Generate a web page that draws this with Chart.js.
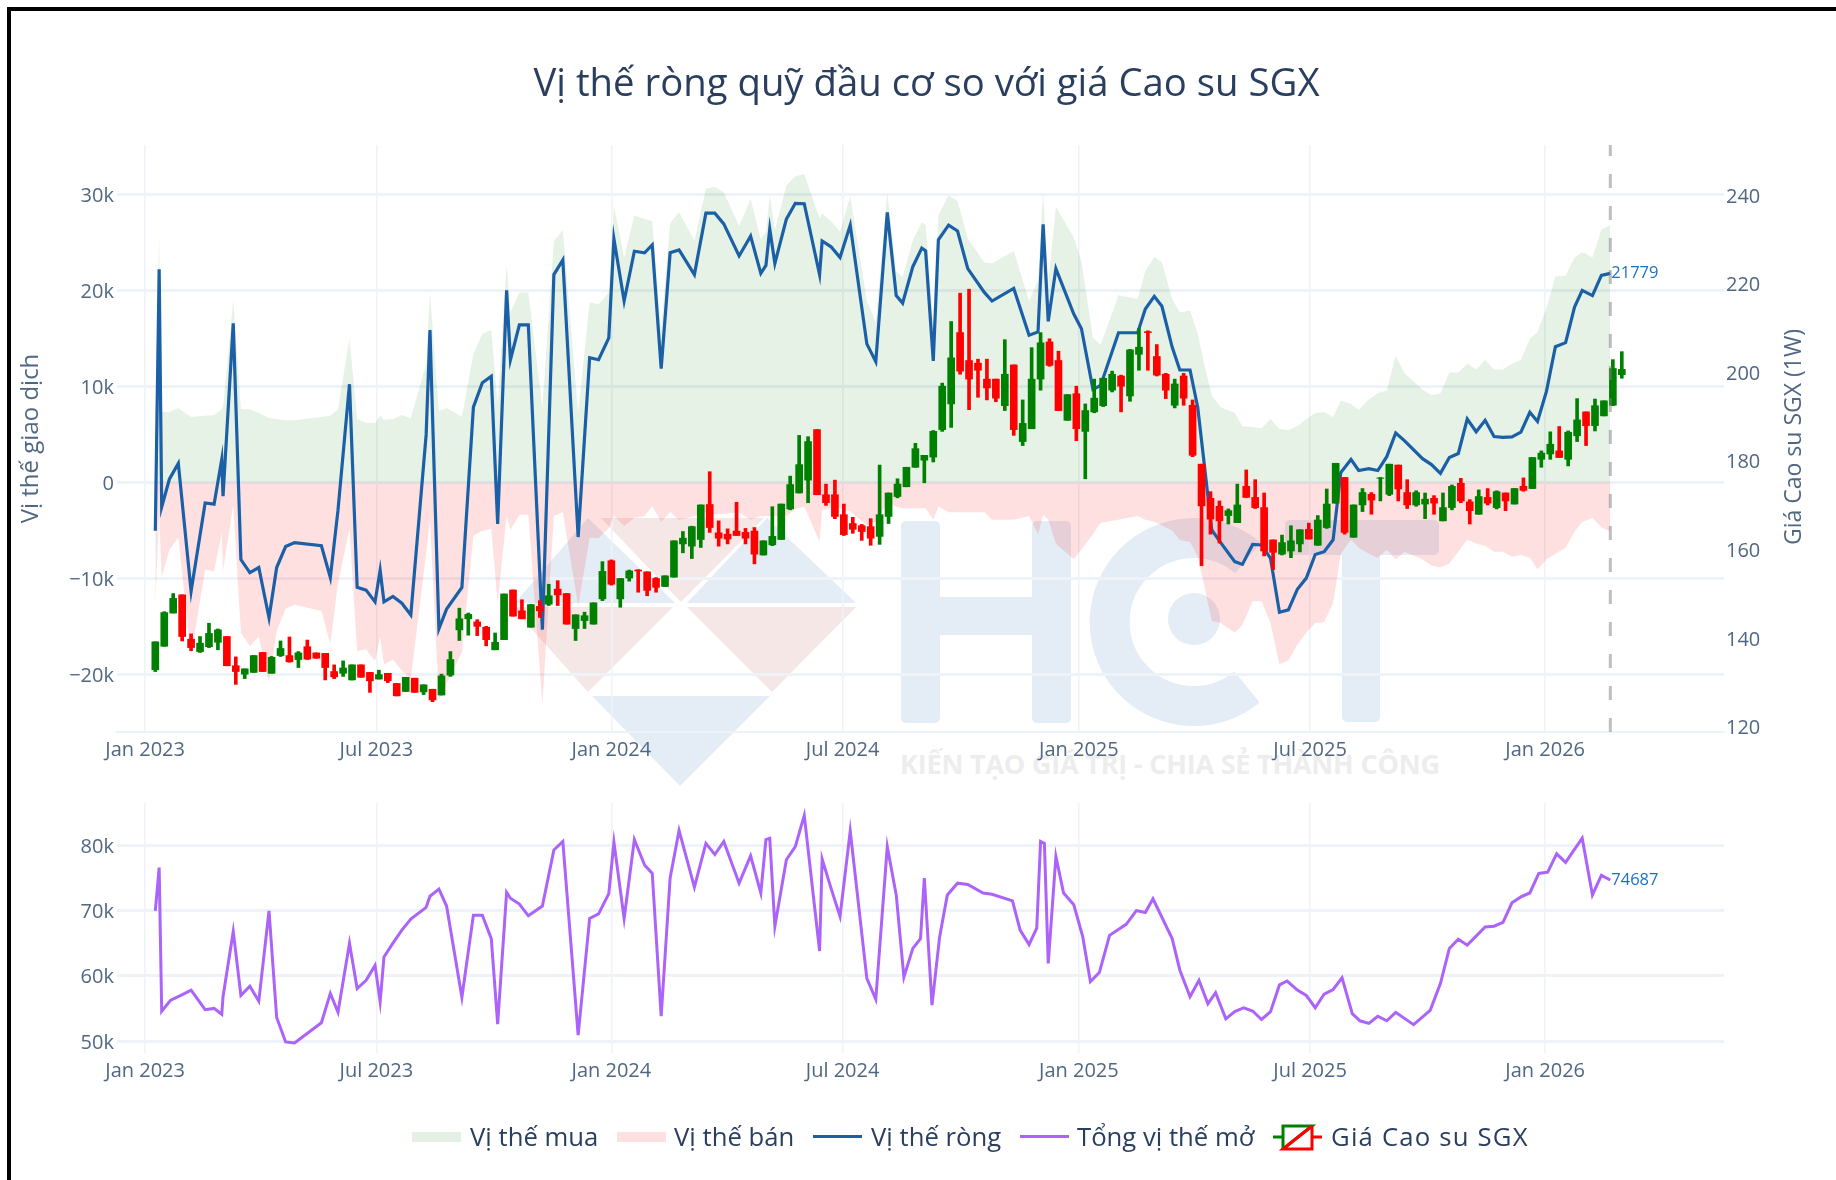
<!DOCTYPE html>
<html>
<head>
<meta charset="utf-8">
<title>Vị thế ròng quỹ đầu cơ so với giá Cao su SGX</title>
<script src="https://cdn.jsdelivr.net/npm/chart.js@4"></script>
<style>
  html, body { margin: 0; padding: 0; background: #fff; }
  #page { position: relative; width: 1836px; height: 1180px; overflow: hidden; background: #fff; font-family: "Open Sans", sans-serif; color: #2a3f5f; }
  #frameTop { position: absolute; left: 7px; top: 7px; right: 0; height: 4px; background: #000; }
  #frameLeft { position: absolute; left: 7px; top: 7px; bottom: 0; width: 4px; background: #000; }
  #watermark { position: absolute; left: 0; top: 0; }
  canvas { position: absolute; left: 0; }
  #topChart { top: 0; }
  #bottomChart { top: 780px; }
  #rightTitle { position: absolute; left: 1775px; top: 310px; height: 254px; line-height: 34px; text-align: center; font-size: 23px; color: #506784; writing-mode: vertical-rl; transform: rotate(180deg); white-space: nowrap; }
  #legend { position: absolute; left: 0; top: 1120px; width: 1836px; height: 34px; font-size: 25.7px; line-height: 34px; }
  #legend span { position: absolute; top: 0; white-space: nowrap; }
  #legend i { position: absolute; display: block; width: 49px; }
  #legend svg { position: absolute; left: 1273px; top: 3px; }
</style>
</head>
<body>
<div id="page">
  <svg id="watermark" width="1836" height="1180">
    <g fill="#e4ecf5">
      <polygon points="588,518 675,603 515,603"/>
      <polygon points="767,518 856,603 687,603"/>
      <polygon points="592,696 770,696 680,786"/>
      <rect x="901" y="521" width="39" height="202" rx="5"/>
      <rect x="940" y="597" width="92" height="38"/>
      <rect x="1032" y="521" width="39" height="202" rx="5"/>
      <circle cx="1194" cy="619" r="26"/>
      <rect x="1285" y="520" width="154" height="35" rx="5"/>
      <rect x="1342" y="520" width="38" height="202" rx="5"/>
    </g>
    <g fill="#f6e7e7">
      <polygon points="601,518 764,518 681,602"/>
      <polygon points="512,607 673,607 588,692"/>
      <polygon points="687,607 856,607 772,692"/>
    </g>
    <path d="M 1248 558 A 84 84 0 1 0 1247 687" fill="none" stroke="#e4ecf5" stroke-width="40"/>
    <text x="900" y="774" font-family="Open Sans" font-weight="700" font-size="27" fill="#ededed" textLength="540">KIẾN TẠO GIÁ TRỊ - CHIA SẺ THÀNH CÔNG</text>
  </svg>
  <canvas id="topChart" width="1836" height="780"></canvas>
  <canvas id="bottomChart" width="1836" height="310"></canvas>
  <div id="frameTop"></div>
  <div id="frameLeft"></div>
  <div id="rightTitle">Giá Cao su SGX (1W)</div>
  <div id="legend">
    <i style="left:412px;top:12px;height:10px;background:#e5f0e5"></i><span style="left:470px">Vị thế mua</span>
    <i style="left:617px;top:12px;height:10px;background:#ffe0e0"></i><span style="left:674px">Vị thế bán</span>
    <i style="left:813px;top:15px;height:3px;background:#1b5fa6"></i><span style="left:871px">Vị thế ròng</span>
    <i style="left:1020px;top:15px;height:3px;background:#ab63fa"></i><span style="left:1077px">Tổng vị thế mở</span>
    <svg width="49" height="28">
      <path d="M0 14H10M10 26V3H39L10 26" fill="none" stroke="#008000" stroke-width="3"/>
      <path d="M49 14H39M39 3V26H10L39 3" fill="none" stroke="#ff0000" stroke-width="3"/>
    </svg>
    <span style="left:1331px;letter-spacing:1.2px">Giá Cao su SGX</span>
  </div>
</div>
<script>
// all dates are days since 1 Jan 2023
const xTickDays = [0, 181, 365, 546, 731, 912, 1096];
const xTickLabels = ['Jan 2023', 'Jul 2023', 'Jan 2024', 'Jul 2024', 'Jan 2025', 'Jul 2025', 'Jan 2026'];
const positionTicks = [-20000, -10000, 0, 10000, 20000, 30000];
const priceTicks = [120, 140, 160, 180, 200, 220, 240];
const oiTicks = [50000, 60000, 70000, 80000];

const reportDays = [
  8,11,13,19,26,36,47,54,60,61,
  69,75,82,89,97,103,110,117,138,145,
  151,160,166,173,180,184,187,194,201,208,
  220,223,230,236,248,257,264,271,276,283,
  286,293,300,311,320,327,339,348,355,363,
  367,375,383,391,397,404,411,418,430,439,
  446,453,465,474,482,486,489,493,502,509,
  516,528,530,537,544,552,565,572,581,588,
  593,601,608,611,617,621,629,636,644,657,
  663,680,692,699,703,707,713,727,733,742,
  748,762,777,783,790,796,804,810,818,824,
  829,835,842,853,859,867,874,881,888,895,
  902,909,916,923,930,936,944,950,958,965,
  972,979,986,1000,1007,1014,1021,1028,1035,1042,
  1049,1056,1063,1070,1077,1084,1090,1097,1104,1112,
  1119,1125,1133,1140,1147];

const netPosition = [
  -5030,22190,-2560,330,1980,-11340,-2140,-2270,2390,-1440,
  16580,-8040,-9400,-8870,-14100,-8870,-6680,-6270,-6600,-9900,
  -2890,10230,-10930,-11220,-12450,-9150,-12450,-11880,-12580,-13810,
  4950,15880,-15260,-13200,-10930,7840,10390,11050,-4330,20000,
  12780,16410,16410,-15340,21650,23180,-5690,12990,12780,15050,
  25360,18890,24080,23920,24740,11840,23920,24210,21650,28040,
  28040,26930,23590,25650,21770,22600,26390,22800,27420,29070,
  29030,21650,25150,24540,23420,26800,14430,12580,28120,19460,
  18680,22470,24410,24120,12660,25280,26800,26190,22270,19790,
  18890,20210,15340,15670,26890,16780,22270,17530,16000,9690,
  10100,15590,15590,18060,19380,18350,14100,11710,11710,7840,
  2060,-4950,-6270,-8250,-8540,-6470,-6520,-7920,-13530,-13280,
  -11130,-9970,-7510,-7220,-5980,1030,2390,1240,1440,1240,
  2680,5150,4330,2470,1860,950,2600,3010,6600,5280,
  6470,4780,4700,4740,5240,7300,6350,9480,14140,14560,
  18270,20000,19460,21570,21779];

const longPosition = [
  7630,25570,7340,7340,7750,6800,6930,7010,7630,7840,
  18970,7630,7630,7220,6720,6600,6470,6470,6800,6930,
  7630,15050,6600,6190,6190,6930,6520,6600,7010,6680,
  12370,19790,7420,7750,6800,13400,15460,15880,8250,22680,
  17730,19790,19790,7840,25150,26270,7220,18760,18560,19790,
  28860,23430,27790,27430,27210,15960,27010,28130,25160,30600,
  30800,30200,26700,29500,25300,26100,29900,26300,30900,31900,
  32100,27500,28000,27200,26100,29800,18900,16700,30200,22000,
  21400,25200,27100,26800,16600,27800,29900,29300,25400,22900,
  22800,24100,18900,21000,30300,20700,28700,25500,23000,15100,
  14300,19500,19100,22000,23500,22900,19100,17700,17900,15500,
  12400,9070,7840,7220,5860,5770,5650,6600,5570,5440,
  5860,6600,7220,7340,6800,8540,8160,7550,8660,9280,
  9570,13200,11340,9690,9070,9280,11460,11460,12370,11750,
  12780,11750,11750,12370,12780,14970,15670,18140,21440,21530,
  23420,24000,23420,26310,26800];

const shortPosition = [
  -12660,-3380,-9900,-7010,-5770,-18140,-9070,-9280,-5240,-9280,
  -2390,-15670,-17030,-16090,-20820,-15470,-13150,-12740,-13400,-16830,
  -10520,-4820,-17530,-17410,-18640,-16080,-18970,-18480,-19590,-20490,
  -7420,-3910,-22680,-20950,-17730,-5560,-5070,-4830,-12580,-3500,
  -4950,-3380,-3380,-23180,-3500,-3090,-12910,-5770,-5780,-4740,
  -3500,-4540,-3710,-3510,-2470,-4120,-3090,-3920,-3510,-3090,
  -3300,-3300,-3100,-3900,-3500,-3500,-3500,-3500,-3500,-2800,
  -2500,-6200,-2900,-2700,-2700,-3000,-4500,-4100,-2200,-2500,
  -2700,-2700,-2700,-2700,-3900,-2500,-3100,-3100,-3100,-3100,
  -3900,-3900,-3500,-5400,-3400,-3900,-6400,-8000,-7000,-5400,
  -4200,-3900,-3500,-3900,-4100,-4500,-5000,-6000,-6200,-7700,
  -10700,-14430,-14640,-15670,-14850,-12370,-12370,-14640,-18970,-18560,
  -16910,-15670,-14640,-14560,-12580,-7420,-5980,-6800,-7420,-7840,
  -7010,-8040,-7220,-8040,-8660,-8870,-8450,-7220,-5980,-6390,
  -6600,-7220,-7220,-7750,-7550,-7840,-9070,-8040,-7420,-6800,
  -5150,-4120,-3710,-4660,-5150];

const oiDays = [
  8,11,13,20,28,36,47,54,60,61,
  69,75,82,89,97,103,110,117,138,145,
  151,160,166,173,180,184,187,194,201,208,
  220,223,230,236,248,257,264,271,276,283,
  286,293,300,311,320,327,339,348,355,363,
  367,375,383,391,397,404,411,418,430,439,
  446,453,465,474,482,486,489,493,502,509,
  516,528,530,537,544,552,565,572,581,588,
  594,601,607,610,616,622,628,636,644,656,
  663,679,685,692,698,701,704,707,713,719,
  727,734,740,747,755,768,776,783,789,804,
  810,818,825,832,838,846,853,860,867,874,
  881,888,894,902,909,916,923,930,937,945,
  951,958,965,972,979,993,1006,1014,1021,1028,
  1035,1049,1056,1063,1070,1077,1084,1091,1098,1105,
  1112,1125,1133,1140,1147];

const openInterest = [
  69950,76600,54560,56260,57000,57800,54800,55000,54100,56800,
  66800,57000,58400,56100,69950,53600,49850,49700,52800,57300,
  54400,65000,58050,59300,61600,56000,62900,65000,67000,68700,
  70500,72200,73300,70700,56700,69300,69300,65700,52600,72800,
  71900,71000,69200,70700,79300,80600,50900,68800,69500,72600,
  80500,68800,80900,77000,75700,53800,75000,82300,73600,80300,
  78600,80600,74200,78400,72700,80900,81100,67600,77800,79800,
  84600,63800,77900,73400,69100,82200,59600,56400,79800,72400,
  59800,64200,65700,75000,55500,66000,72400,74200,74000,72700,
  72500,71500,67000,64800,67300,80600,80300,61900,78300,72700,
  70900,66000,59100,60500,66200,67900,70000,69700,71800,65700,
  60900,56800,59300,55700,57400,53400,54500,55100,54600,53300,
  54500,58600,59200,57800,57000,55100,57200,57900,59700,54200,
  53100,52700,53800,53100,54400,52500,54700,58800,64200,65600,
  64700,67500,67600,68200,71200,72100,72700,75700,75900,78700,
  77400,81100,72400,75400,74687];

// weekly candles of the SGX rubber price, first one on 9 Jan 2023
const firstCandleDay = 8;
const candleOpen = [
  132.7,138.0,145.5,149.6,139.6,136.8,137.9,138.9,140.2,133.6,
  131.7,132.1,136.6,131.9,135.9,135.9,135.0,137.9,136.5,136.4,
  132.3,131.9,130.4,133.8,132.1,130.6,131.9,129.6,127.8,130.8,
  127.7,128.3,127.0,131.5,141.7,144.2,143.5,142.3,137.2,139.5,
  150.7,146.0,142.3,147.0,147.5,150.9,149.9,142.0,143.8,143.0,
  148.7,157.3,148.7,153.4,155.2,154.8,153.3,151.5,153.6,161.1,
  160.6,162.1,170.0,163.6,163.3,164.0,163.7,164.0,158.6,160.9,
  162.1,169.0,172.6,175.5,186.9,172.2,172.2,167.7,165.7,165.2,
  165.0,162.8,167.3,171.8,174.0,178.4,180.0,180.7,186.9,192.7,
  208.8,202.5,201.9,198.3,198.3,192.3,201.5,184.2,187.1,198.3,
  206.7,202.5,189.0,195.0,186.5,190.9,192.3,195.8,199.0,194.5,
  203.9,209.0,203.4,199.4,192.4,199.0,192.4,179.1,171.4,169.6,
  167.5,165.9,174.1,171.6,169.3,162.0,158.8,159.5,161.1,164.4,
  160.8,164.8,170.3,176.1,162.6,169.9,172.3,175.9,172.3,178.9,
  172.7,169.9,170.1,171.4,166.3,169.3,174.8,170.6,167.8,171.6,
  169.3,172.6,170.1,174.1,173.6,180.2,181.4,182.1,180.2,185.5,
  190.9,187.8,190.0,192.4,199.3];
const candleHigh = [
  139.0,145.8,149.9,149.6,140.8,140.2,143.2,141.9,140.2,135.6,
  132.9,135.9,136.6,135.7,139.2,140.1,136.8,139.4,136.5,136.4,
  133.8,134.7,133.8,133.8,132.1,132.6,131.9,129.6,131.0,130.8,
  129.3,128.3,131.7,136.8,146.6,145.5,144.0,142.5,141.0,149.8,
  150.7,148.5,147.4,148.3,152.0,152.8,149.9,145.1,145.7,147.8,
  157.1,157.5,153.3,155.2,155.3,154.8,153.5,153.9,161.8,163.9,
  165.1,169.9,177.4,166.3,164.5,170.5,164.6,164.8,161.8,169.5,
  170.1,176.4,185.6,185.3,186.9,174.6,175.5,170.1,167.1,165.5,
  166.8,178.9,172.6,175.8,178.4,183.8,181.1,186.7,197.4,211.3,
  217.7,218.6,202.8,202.8,198.3,207.2,201.5,193.6,205.4,208.8,
  207.4,204.6,194.8,196.7,192.7,198.3,198.5,200.1,199.2,205.0,
  209.7,209.2,206.1,199.6,198.3,199.6,193.6,179.1,172.9,170.8,
  169.0,174.6,177.8,175.6,172.6,162.0,163.1,165.2,164.3,165.8,
  167.5,173.5,179.3,176.1,169.9,173.6,172.7,176.1,179.1,178.9,
  175.6,173.1,172.6,172.0,172.6,174.4,175.9,171.1,173.3,173.6,
  173.1,172.6,173.6,176.0,180.6,182.1,186.4,187.6,186.6,193.9,
  190.9,193.8,193.4,202.7,204.5];
const candleLow = [
  132.3,138.0,145.5,139.2,137.0,136.6,137.7,137.2,133.6,129.4,
  130.7,132.1,132.3,131.9,135.7,134.4,133.2,135.0,135.3,130.4,
  130.7,131.2,130.4,131.0,127.6,130.6,129.8,126.8,127.8,127.6,
  127.1,125.5,127.0,131.2,139.3,140.5,140.4,138.1,137.2,139.5,
  144.8,144.2,142.3,144.5,147.2,147.2,143.0,139.3,142.0,143.0,
  148.3,151.8,146.8,152.7,150.2,149.4,150.2,151.5,153.6,159.1,
  157.8,160.3,163.7,160.6,161.1,163.0,161.1,156.6,158.6,160.7,
  162.1,168.8,172.6,170.4,172.2,169.8,166.8,163.0,163.5,161.9,
  160.8,161.0,165.7,171.5,174.0,178.4,174.9,179.6,186.5,187.4,
  199.4,191.4,194.2,193.6,193.2,191.2,185.6,183.3,187.1,195.8,
  201.2,191.2,189.0,184.4,175.8,190.7,192.1,195.4,190.9,193.3,
  200.3,200.3,199.0,193.9,191.8,192.4,180.8,156.2,163.3,161.3,
  165.6,165.9,171.6,169.1,158.4,155.3,158.6,158.0,159.3,162.2,
  160.8,164.6,170.3,163.3,162.6,168.4,167.8,170.8,172.0,170.8,
  169.1,169.6,166.8,167.8,166.3,168.8,170.4,165.6,167.8,169.9,
  169.0,168.6,170.1,173.0,173.6,178.4,180.2,180.6,178.7,184.2,
  183.3,186.6,190.0,192.3,198.5];
const candleClose = [
  139.0,145.6,148.8,140.2,137.7,138.7,140.9,141.7,133.6,132.3,
  132.9,135.9,132.3,135.5,137.5,134.5,136.5,135.1,135.3,133.2,
  131.1,133.1,133.8,131.0,130.2,131.6,130.2,126.8,131.0,127.6,
  129.3,125.9,131.3,135.0,144.2,145.2,142.5,139.5,138.9,149.8,
  144.8,144.2,147.4,146.0,149.4,149.6,143.0,145.1,144.9,147.8,
  154.9,152.0,153.3,155.0,155.0,150.6,151.3,153.9,161.8,162.4,
  165.0,169.9,164.8,162.4,162.2,163.0,162.4,158.8,161.8,162.8,
  170.1,174.5,179.0,184.2,172.2,170.4,167.3,163.2,164.4,163.9,
  162.4,167.7,172.6,174.6,178.4,182.6,181.1,186.5,196.7,203.1,
  200.1,198.3,200.3,196.3,194.0,199.4,186.9,188.3,198.3,206.5,
  201.4,191.2,194.8,187.1,191.2,194.0,198.5,199.4,196.7,204.9,
  205.5,208.8,199.2,195.8,197.2,194.0,181.1,169.7,166.7,166.3,
  168.6,169.9,171.6,169.3,159.5,159.2,161.4,161.8,164.3,162.2,
  166.5,170.1,179.3,163.7,169.9,172.7,171.0,176.0,179.1,173.5,
  169.9,172.7,171.2,170.3,169.3,174.1,170.8,168.6,171.8,170.3,
  172.9,170.8,173.6,173.2,180.6,181.6,183.6,180.6,186.3,189.1,
  187.8,192.3,193.4,200.7,200.5];

const colors = {
  up: '#008000', down: '#ff0000',
  long: 'rgba(0,128,0,0.1)', short: 'rgba(255,0,0,0.12)',
  net: '#1b5fa6', oi: '#ab63fa',
  grid: '#eef2f9', tick: '#506784', title: '#2a3f5f', endLabel: '#1f6fbf'
};

const xRange = { min: -22, max: 1236 };
const lastDay = reportDays[reportDays.length - 1];
const tickFont = { family: '"Open Sans", sans-serif', size: 20 };

const toPoints = (days, values) => days.map((d, i) => ({ x: d, y: values[i] }));
const kLabel = v => (v === 0 ? '0' : (v < 0 ? '\u2212' : '') + Math.abs(v / 1000) + 'k');
const fixedTicks = list => scale => { scale.ticks = list.map(v => ({ value: v })); };

const candleDays = candleOpen.map((_, i) => firstCandleDay + i * 7);
const candleColor = candleOpen.map((o, i) => (candleClose[i] >= o ? colors.up : colors.down));
const candleWicks = candleDays.map((d, i) => ({ x: d, y: [candleLow[i], candleHigh[i]] }));
const candleBodies = candleDays.map((d, i) => ({ x: d, y: [candleOpen[i], candleClose[i]] }));

function xAxis() {
  return {
    type: 'linear',
    min: xRange.min,
    max: xRange.max,
    offset: false,
    afterBuildTicks: fixedTicks(xTickDays),
    afterFit: scale => { scale.height = 48; },
    ticks: {
      autoSkip: false,
      maxRotation: 0,
      padding: 6,
      color: colors.tick,
      font: tickFont,
      callback: v => xTickLabels[xTickDays.indexOf(v)]
    },
    grid: { color: colors.grid, lineWidth: 1.5, drawTicks: false, offset: false },
    border: { display: false }
  };
}

// prints the last value right of the last point
function endLabel(text, lastValue, yAxisId) {
  return {
    id: 'endLabel',
    afterDatasetsDraw(chart) {
      const ctx = chart.ctx;
      ctx.save();
      ctx.font = '16.5px "Open Sans", sans-serif';
      ctx.fillStyle = colors.endLabel;
      ctx.textBaseline = 'middle';
      ctx.fillText(text, chart.scales.x.getPixelForValue(lastDay) + 1, chart.scales[yAxisId].getPixelForValue(lastValue));
      ctx.restore();
    }
  };
}

const yTop = { min: -26000, max: 35150 };
const lastNet = netPosition[netPosition.length - 1];

new Chart(document.getElementById('topChart'), {
  type: 'line',
  plugins: [endLabel(String(lastNet), lastNet, 'y')],
  data: {
    datasets: [
      { label: 'Vị thế mua', data: toPoints(reportDays, longPosition), order: 6, fill: 'origin', backgroundColor: colors.long, borderWidth: 0, pointRadius: 0, yAxisID: 'y' },
      { label: 'Vị thế bán', data: toPoints(reportDays, shortPosition), order: 5, fill: 'origin', backgroundColor: colors.short, borderWidth: 0, pointRadius: 0, yAxisID: 'y' },
      { label: 'Vị thế ròng', data: toPoints(reportDays, netPosition), order: 4, borderColor: colors.net, borderWidth: 3.2, pointRadius: 0, tension: 0, yAxisID: 'y' },
      { type: 'bar', label: 'Giá Cao su SGX', data: candleWicks, order: 3, grouped: false, barThickness: 3, backgroundColor: candleColor, yAxisID: 'y1' },
      { type: 'bar', label: 'Giá Cao su SGX', data: candleBodies, order: 2, grouped: false, barThickness: 7, backgroundColor: candleColor, yAxisID: 'y1' },
      { label: 'cutoff', data: [{ x: lastDay, y: yTop.min }, { x: lastDay, y: yTop.max }], order: 1, borderColor: 'rgba(128,128,128,0.5)', borderWidth: 3, borderDash: [14, 18], pointRadius: 0, yAxisID: 'y' }
    ]
  },
  options: {
    responsive: false,
    animation: false,
    devicePixelRatio: 1,
    layout: { padding: { left: 17 } },
    plugins: {
      legend: { display: false },
      tooltip: { enabled: false },
      title: {
        display: true,
        text: 'Vị thế ròng quỹ đầu cơ so với giá Cao su SGX',
        color: colors.title,
        font: { family: '"Open Sans", sans-serif', size: 38.3, weight: 'normal' },
        padding: { top: 62.5, bottom: 36.5 }
      }
    },
    scales: {
      x: Object.assign(xAxis(), { border: { display: true, color: colors.grid, width: 2 } }),
      y: {
        position: 'left',
        min: yTop.min,
        max: yTop.max,
        afterBuildTicks: fixedTicks(positionTicks),
        afterFit: scale => { scale.width = 100; },
        title: { display: true, text: 'Vị thế giao dịch', color: colors.tick, font: { family: '"Open Sans", sans-serif', size: 24 }, padding: 0 },
        ticks: { padding: 3, labelOffset: 2, color: colors.tick, font: tickFont, callback: kLabel },
        grid: { color: colors.grid, lineWidth: 3, drawTicks: false },
        border: { display: false }
      },
      y1: {
        position: 'right',
        min: 118.65,
        max: 251.15,
        afterBuildTicks: fixedTicks(priceTicks),
        afterFit: scale => { scale.width = 112; },
        ticks: { padding: 2, labelOffset: 2.5, color: colors.tick, font: tickFont },
        grid: { display: false, drawOnChartArea: false, drawTicks: false },
        border: { display: false }
      }
    }
  }
});

const lastOi = openInterest[openInterest.length - 1];

new Chart(document.getElementById('bottomChart'), {
  type: 'line',
  plugins: [endLabel(String(lastOi), lastOi, 'y')],
  data: {
    datasets: [
      { label: 'Tổng vị thế mở', data: toPoints(oiDays, openInterest), borderColor: colors.oi, borderWidth: 3, pointRadius: 0, tension: 0 }
    ]
  },
  options: {
    responsive: false,
    animation: false,
    devicePixelRatio: 1,
    layout: { padding: { left: 17, right: 112, top: 23 } },
    plugins: { legend: { display: false }, tooltip: { enabled: false } },
    scales: {
      x: Object.assign(xAxis(), { afterFit: scale => { scale.height = 37; } }),
      y: {
        min: 48160,
        max: 86500,
        afterBuildTicks: fixedTicks(oiTicks),
        afterFit: scale => { scale.width = 100; },
        ticks: { padding: 3, labelOffset: 2, color: colors.tick, font: tickFont, callback: kLabel },
        grid: { color: colors.grid, lineWidth: 3, drawTicks: false },
        border: { display: false }
      }
    }
  }
});
</script>
</body>
</html>
